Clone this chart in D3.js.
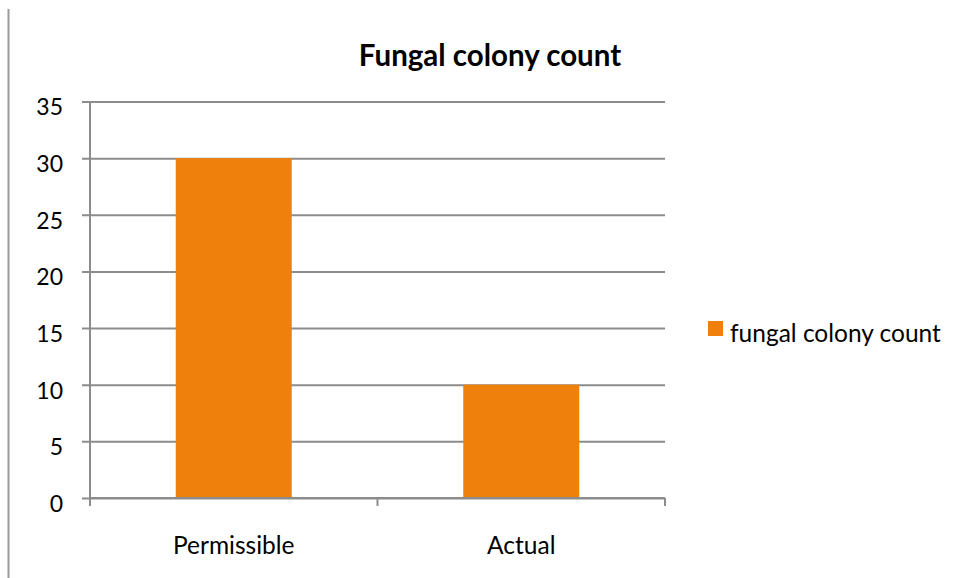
<!DOCTYPE html>
<html>
<head>
<meta charset="utf-8">
<script src="https://cdn.jsdelivr.net/npm/d3@7"></script>
<style>
  html, body { margin: 0; padding: 0; background: #fff; }
  svg text { font-family: Lato, "Open Sans", sans-serif; fill: #000; }
</style>
</head>
<body>
<svg id="chart" width="957" height="578"></svg>
<script>
// Chart data
const categories = ["Permissible", "Actual"];
const values = [30, 10];
const yTicks = [0, 5, 10, 15, 20, 25, 30, 35];
const seriesName = "fungal colony count";
const chartTitle = "Fungal colony count";

const svg = d3.select("#chart");
const plot = { left: 90, right: 665, top: 101.5, bottom: 498 };
const barColor = "#F0800C";
const gridColor = "#8C8C8C";

// Left frame line
svg.append("line")
  .attr("x1", 8.5).attr("x2", 8.5)
  .attr("y1", 9).attr("y2", 578)
  .attr("stroke", "#9a9a9a").attr("stroke-width", 2);

const xb = d3.scaleBand().domain(categories).range([plot.left, plot.right]);
const y = d3.scaleLinear().domain([0, 35]).range([plot.bottom, plot.top]);

// Horizontal gridlines with left tick marks
const yAxis = d3.axisLeft(y).tickValues(yTicks)
  .tickSize(-(plot.right - plot.left)).tickPadding(26).tickFormat(d3.format("d"));
const gy = svg.append("g").attr("transform", `translate(${plot.left},0)`).call(yAxis);
gy.select(".domain").remove();
gy.selectAll(".tick line").attr("stroke", gridColor).attr("stroke-width", 2)
  .attr("x1", -8);
gy.selectAll(".tick text").attr("font-size", 23).attr("font-family", "Lato, sans-serif")
  .attr("fill", "#000").attr("x", -27).attr("y", 6);

// Y axis line
svg.append("line").attr("x1", plot.left).attr("x2", plot.left)
  .attr("y1", plot.top).attr("y2", plot.bottom)
  .attr("stroke", gridColor).attr("stroke-width", 2);

// Bars
svg.append("g").selectAll("rect").data(values).join("rect")
  .attr("x", (d, i) => xb(categories[i]) + (xb.bandwidth() - 116) / 2)
  .attr("width", 116)
  .attr("y", d => y(d))
  .attr("height", d => y(0) - y(d))
  .attr("fill", barColor);

// X axis baseline and ticks between categories
svg.append("line").attr("x1", plot.left).attr("x2", plot.right)
  .attr("y1", plot.bottom).attr("y2", plot.bottom)
  .attr("stroke", gridColor).attr("stroke-width", 2);
const bounds = [plot.left, ...categories.map(c => xb(c) + xb.bandwidth())];
svg.append("g").selectAll("line").data(bounds).join("line")
  .attr("x1", d => d).attr("x2", d => d)
  .attr("y1", plot.bottom).attr("y2", plot.bottom + 8)
  .attr("stroke", gridColor).attr("stroke-width", 2);

// Category labels
svg.append("g").selectAll("text").data(categories).join("text")
  .attr("x", d => xb(d) + xb.bandwidth() / 2)
  .attr("y", 554)
  .attr("text-anchor", "middle")
  .attr("font-size", 24.5)
  .text(d => d);

// Title
svg.append("text").attr("x", 490).attr("y", 66)
  .attr("text-anchor", "middle").attr("font-size", 29.5).attr("font-weight", "bold")
  .text(chartTitle);

// Legend
svg.append("rect").attr("x", 708).attr("y", 321).attr("width", 15).attr("height", 15)
  .attr("fill", barColor);
svg.append("text").attr("x", 730).attr("y", 342).attr("font-size", 24.5)
  .text(seriesName);
</script>
</body>
</html>
